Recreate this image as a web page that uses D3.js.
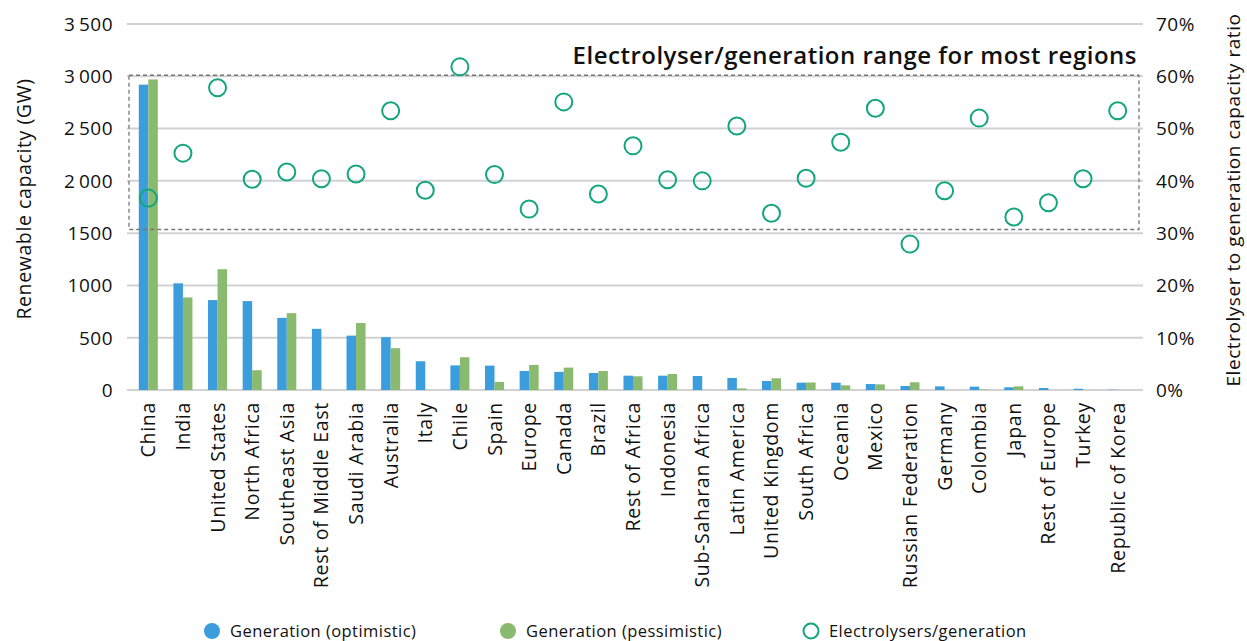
<!DOCTYPE html>
<html>
<head>
<meta charset="utf-8">
<script src="https://cdn.jsdelivr.net/npm/d3@7"></script>
<style>
  body { margin: 0; background: #fff; }
  svg text { font-family: "Open Sans", "Noto Sans", sans-serif; fill: #111; }
</style>
</head>
<body>
<div id="chart"></div>
<script>
// Regions, in chart order
const regions = ["China", "India", "United States", "North Africa", "Southeast Asia",
  "Rest of Middle East", "Saudi Arabia", "Australia", "Italy", "Chile", "Spain", "Europe",
  "Canada", "Brazil", "Rest of Africa", "Indonesia", "Sub-Saharan Africa", "Latin America",
  "United Kingdom", "South Africa", "Oceania", "Mexico", "Russian Federation", "Germany",
  "Colombia", "Japan", "Rest of Europe", "Turkey", "Republic of Korea"];

// Renewable capacity (GW)
const genOptimistic = [2920, 1020, 860, 850, 690, 585, 520, 505, 275, 235, 233, 182,
  173, 163, 137, 137, 134, 115, 86, 70, 70, 57, 38, 35, 32, 26, 19, 12, 3];
const genPessimistic = [2970, 885, 1155, 189, 735, 0, 640, 400, 0, 313, 77, 240,
  214, 182, 131, 153, 0, 15, 112, 72, 45, 54, 74, 0, 5, 35, 0, 0, 0];

// Electrolyser to generation capacity ratio
const ratio = [0.367, 0.453, 0.578, 0.403, 0.417, 0.404, 0.413, 0.534, 0.382, 0.618,
  0.412, 0.346, 0.551, 0.375, 0.467, 0.402, 0.400, 0.505, 0.338, 0.405, 0.474, 0.539,
  0.279, 0.381, 0.520, 0.331, 0.358, 0.404, 0.534];

const leftTicks = [0, 500, 1000, 1500, 2000, 2500, 3000, 3500];
const rightTicks = [0, 0.1, 0.2, 0.3, 0.4, 0.5, 0.6, 0.7];
const rangeBand = [0.307, 0.602];

const width = 1247, height = 641;
const blue = "#3b9ddb", green = "#8aba6f", teal = "#13a67a";

const svg = d3.select("#chart").append("svg")
  .attr("width", width)
  .attr("height", height);

const x0 = d3.scaleBand().domain(regions).range([131, 1135]);
const x1 = d3.scaleBand().domain(["opt", "pes"]).range([0, x0.bandwidth()]).paddingOuter(0.82);
const yL = d3.scaleLinear().domain([0, 3500]).range([390, 24]);
const yR = d3.scaleLinear().domain([0, 0.7]).range([390, 24]);

// thousands separated by a thin space, except 1500 / 1000 as in the source
const fmt = d => d >= 2000 ? d3.format(",")(d).replace(",", "\u2009") : String(d);

// grid
svg.append("g").selectAll("line")
  .data(leftTicks)
  .join("line")
  .attr("x1", 127).attr("x2", 1143)
  .attr("y1", d => yL(d)).attr("y2", d => yL(d))
  .attr("stroke", "#d2d2d2")
  .attr("stroke-width", 2);

// left axis labels
svg.append("g").selectAll("text")
  .data(leftTicks)
  .join("text")
  .attr("x", 113)
  .attr("y", d => yL(d))
  .attr("dy", "0.36em")
  .attr("text-anchor", "end")
  .attr("font-size", 19)
  .attr("letter-spacing", 0.5)
  .text(fmt);

// right axis labels
svg.append("g").selectAll("text")
  .data(rightTicks)
  .join("text")
  .attr("x", 1156)
  .attr("y", d => yR(d))
  .attr("dy", "0.36em")
  .attr("font-size", 19)
  .attr("letter-spacing", 0.5)
  .text(d => Math.round(d * 100) + "%");

// axis titles
svg.append("text")
  .attr("transform", "translate(31,199) rotate(-90)")
  .attr("text-anchor", "middle")
  .attr("font-size", 19.5)
  .attr("letter-spacing", 0.6)
  .text("Renewable capacity (GW)");

svg.append("text")
  .attr("transform", "translate(1240,200) rotate(-90)")
  .attr("text-anchor", "middle")
  .attr("font-size", 19)
  .attr("letter-spacing", 0.55)
  .text("Electrolyser to generation capacity ratio");

// bars
const groups = svg.append("g").selectAll("g")
  .data(regions.map((r, i) => ({ r, opt: genOptimistic[i], pes: genPessimistic[i] })))
  .join("g")
  .attr("transform", d => `translate(${x0(d.r)},0)`);

groups.append("rect")
  .attr("x", x1("opt"))
  .attr("width", x1.bandwidth())
  .attr("y", d => yL(d.opt))
  .attr("height", d => yL(0) - yL(d.opt))
  .attr("fill", blue);

groups.append("rect")
  .attr("x", x1("pes"))
  .attr("width", x1.bandwidth())
  .attr("y", d => yL(d.pes))
  .attr("height", d => yL(0) - yL(d.pes))
  .attr("fill", green);

// range box
svg.append("rect")
  .attr("x", 129)
  .attr("y", yR(rangeBand[1]))
  .attr("width", 1010)
  .attr("height", yR(rangeBand[0]) - yR(rangeBand[1]))
  .attr("fill", "none")
  .attr("stroke", "#777")
  .attr("stroke-width", 1.3)
  .attr("stroke-dasharray", "4,3");

svg.append("text")
  .attr("x", 1137)
  .attr("y", 64)
  .attr("text-anchor", "end")
  .attr("font-size", 24)
  .attr("font-weight", 600)
  .attr("letter-spacing", 0.5)
  .text("Electrolyser/generation range for most regions");

// ratio markers
svg.append("g").selectAll("circle")
  .data(regions.map((r, i) => ({ r, v: ratio[i] })))
  .join("circle")
  .attr("cx", d => x0(d.r) + x0.bandwidth() / 2)
  .attr("cy", d => yR(d.v))
  .attr("r", 8.5)
  .attr("fill", "none")
  .attr("stroke", teal)
  .attr("stroke-width", 2);

// category labels
svg.append("g").selectAll("text")
  .data(regions)
  .join("text")
  .attr("transform", d => `translate(${x0(d) + x0.bandwidth() / 2 + 7},402) rotate(-90)`)
  .attr("text-anchor", "end")
  .attr("font-size", 19.5)
  .attr("letter-spacing", 0.7)
  .text(d => d);

// legend
const legend = [
  { label: "Generation (optimistic)", x: 212, fill: blue, stroke: "none" },
  { label: "Generation (pessimistic)", x: 508, fill: green, stroke: "none" },
  { label: "Electrolysers/generation", x: 811, fill: "none", stroke: teal }
];
const lg = svg.append("g").selectAll("g")
  .data(legend)
  .join("g")
  .attr("transform", d => `translate(${d.x},631)`);
lg.append("circle")
  .attr("r", d => d.stroke === "none" ? 8 : 7.5)
  .attr("fill", d => d.fill)
  .attr("stroke", d => d.stroke)
  .attr("stroke-width", 2);
lg.append("text")
  .attr("x", 18)
  .attr("dy", "0.35em")
  .attr("font-size", 16.5)
  .attr("letter-spacing", 0.45)
  .text(d => d.label);
</script>
</body>
</html>
